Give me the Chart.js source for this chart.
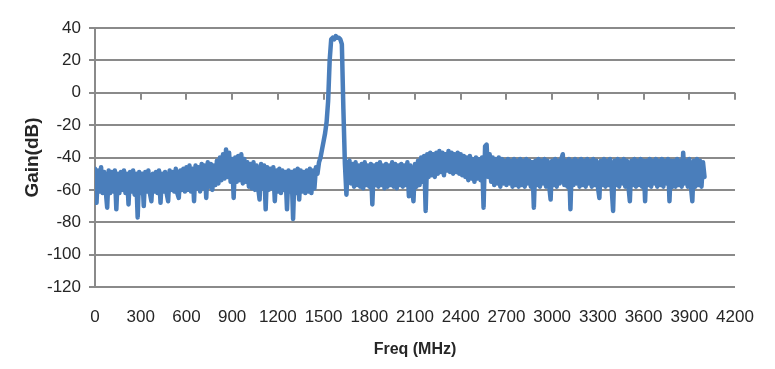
<!DOCTYPE html>
<html>
<head>
<meta charset="utf-8">
<script src="https://cdn.jsdelivr.net/npm/chart.js@4.4.1/dist/chart.umd.min.js"></script>
<style>
  html, body { margin: 0; padding: 0; background: #fff; }
  #chart { display: block; }
</style>
</head>
<body>
<canvas id="chart" width="775" height="369"></canvas>
<script>
// Frequency grid (MHz): one sample every 10 MHz from 0 to 4000
const freqStart = 0;
const freqStep = 10;

// Gain (dB), one row per 200 MHz
const gain = [
  -47, -68, -48, -61, -46, -62, -49, -60, -71, -48, -62, -49, -61, -48, -72, -50, -62, -49, -60, -48,
  -62, -50, -69, -49, -61, -48, -63, -50, -77, -49, -62, -50, -70, -49, -61, -48, -62, -67, -50, -61,
  -49, -62, -48, -68, -50, -61, -49, -62, -67, -48, -60, -49, -61, -47, -62, -65, -48, -60, -47, -61,
  -46, -60, -45, -61, -47, -67, -45, -59, -46, -61, -44, -59, -45, -65, -43, -58, -44, -60, -45, -57,
  -42, -56, -40, -54, -38, -53, -35, -52, -37, -55, -41, -65, -40, -55, -39, -54, -38, -56, -41, -55,
  -43, -58, -44, -59, -43, -60, -45, -58, -66, -44, -59, -45, -72, -46, -60, -47, -59, -46, -67, -48,
  -61, -47, -62, -48, -60, -49, -72, -48, -61, -49, -78, -48, -62, -47, -66, -48, -61, -49, -62, -48,
  -61, -47, -62, -48, -59, -46, -50, -43, -40, -35, -30, -25, -18, -5, 20, 33, 34, 33, 35, 34,
  34, 33, 30, -10, -44, -63, -43, -42, -56, -44, -58, -43, -57, -45, -58, -44, -59, -43, -57, -45,
  -58, -44, -69, -45, -57, -44, -58, -43, -57, -45, -59, -44, -58, -45, -57, -43, -58, -44, -59, -45,
  -57, -44, -58, -45, -57, -43, -64, -45, -58, -67, -44, -58, -42, -57, -40, -55, -39, -73, -38, -52,
  -37, -51, -38, -52, -37, -50, -36, -49, -37, -51, -38, -48, -36, -49, -37, -50, -38, -49, -37, -50,
  -38, -51, -39, -52, -40, -54, -39, -53, -41, -55, -40, -53, -41, -54, -40, -71, -33, -32, -52, -38,
  -55, -40, -57, -41, -56, -40, -58, -41, -56, -42, -57, -41, -56, -42, -58, -41, -57, -42, -58, -41,
  -57, -42, -58, -41, -56, -42, -58, -43, -71, -42, -57, -41, -58, -42, -56, -41, -58, -42, -57, -66,
  -42, -57, -41, -58, -42, -56, -41, -38, -57, -42, -58, -41, -72, -42, -57, -41, -56, -42, -58, -41,
  -57, -42, -58, -41, -56, -42, -58, -41, -57, -42, -58, -65, -42, -57, -41, -58, -42, -57, -41, -58,
  -73, -42, -57, -41, -58, -42, -56, -41, -58, -42, -57, -67, -42, -57, -41, -58, -42, -57, -41, -58,
  -42, -67, -42, -57, -41, -58, -42, -56, -41, -58, -42, -57, -41, -58, -42, -56, -41, -67, -42, -58,
  -42, -58, -41, -57, -42, -58, -37, -56, -42, -58, -41, -57, -67, -42, -58, -41, -57, -42, -58, -43, -52
];

const xTicks = [0, 300, 600, 900, 1200, 1500, 1800, 2100, 2400, 2700, 3000, 3300, 3600, 3900, 4200];
const yTicks = [-120, -100, -80, -60, -40, -20, 0, 20, 40];

const gridColor = '#8a8a8a';
const lineColor = '#4a7ebb';
const labelColor = '#262626';

const points = gain.map((g, i) => ({ x: freqStart + i * freqStep, y: g }));

// small downward tick marks sitting on the 0 dB line, like the excel axis
const zeroTicks = {
  id: 'zeroTicks',
  beforeDatasetsDraw(chart) {
    const xs = chart.scales.x;
    const ys = chart.scales.y;
    const y0 = ys.getPixelForValue(0);
    const ctx = chart.ctx;
    ctx.save();
    ctx.strokeStyle = gridColor;
    ctx.lineWidth = 2;
    xTicks.forEach(t => {
      const px = Math.round(xs.getPixelForValue(t));
      ctx.beginPath();
      ctx.moveTo(px, y0);
      ctx.lineTo(px, y0 + 7);
      ctx.stroke();
    });
    ctx.restore();
  }
};

new Chart(document.getElementById('chart'), {
  type: 'line',
  data: {
    datasets: [{
      data: points,
      borderColor: lineColor,
      borderWidth: 4.5,
      borderJoinStyle: 'round',
      borderCapStyle: 'round',
      pointRadius: 0,
      tension: 0,
      fill: false
    }]
  },
  options: {
    responsive: false,
    animation: false,
    layout: { padding: { left: 0, right: 40, top: 28, bottom: 0 } },
    plugins: {
      legend: { display: false },
      tooltip: { enabled: false }
    },
    scales: {
      x: {
        type: 'linear',
        min: 0,
        max: 4200,
        afterBuildTicks: s => { s.ticks = xTicks.map(v => ({ value: v })); },
        afterFit: s => { s.height = 82; },
        grid: { display: false, drawTicks: false },
        border: { display: false },
        ticks: {
          padding: 20,
          color: labelColor,
          font: { family: 'Liberation Sans', size: 17 },
          maxRotation: 0,
          autoSkip: false,
          callback: v => String(v)
        },
        title: {
          display: true,
          text: 'Freq (MHz)',
          color: labelColor,
          font: { family: 'Liberation Sans', size: 16, weight: 'bold' },
          padding: 9.5
        }
      },
      y: {
        min: -120,
        max: 40,
        afterBuildTicks: s => { s.ticks = yTicks.map(v => ({ value: v })); },
        afterFit: s => { s.width = 95; },
        grid: { color: gridColor, lineWidth: 2, tickLength: 6 },
        border: { display: true, color: gridColor, width: 2 },
        ticks: {
          padding: 8,
          color: labelColor,
          font: { family: 'Liberation Sans', size: 17 }
        },
        title: {
          display: true,
          text: 'Gain(dB)',
          color: labelColor,
          font: { family: 'Liberation Sans', size: 19, weight: 'bold' },
          padding: 21
        }
      }
    }
  },
  plugins: [zeroTicks]
});
</script>
</body>
</html>
